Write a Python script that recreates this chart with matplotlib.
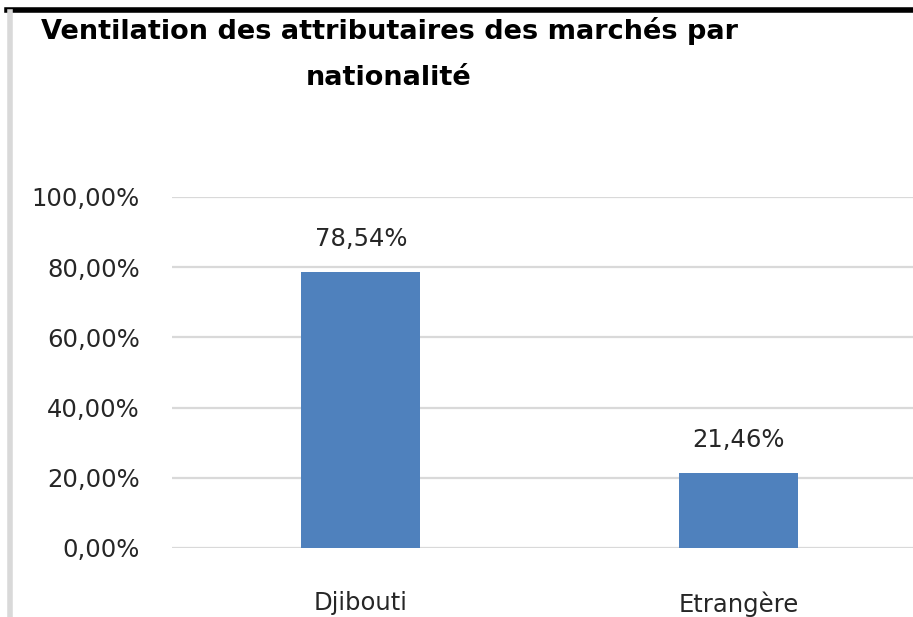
import matplotlib.pyplot as plt
from matplotlib.lines import Line2D

# données
categories = ["Djibouti", "Etrangère"]
valeurs = [0.7854, 0.2146]
ticks = [0.0, 0.2, 0.4, 0.6, 0.8, 1.0]

BLEU = '#4F81BD'
GRILLE = '#D9D9D9'
TEXTE = '#262626'


def fmt_pct(v):
    return f"{v * 100:.2f}%".replace('.', ',')


fig = plt.figure(figsize=(9.13, 6.17), dpi=100)
ax = fig.add_axes([172 / 913, 69 / 617, 755 / 913, 351 / 617])

x = range(len(categories))
ax.bar(x, valeurs, width=0.314, color=BLEU, zorder=3)

ax.set_xlim(-0.5, 1.5)
ax.set_ylim(0, 1.0)
ax.set_yticks(ticks)
ax.set_yticklabels([fmt_pct(t) for t in ticks])
ax.set_xticks(list(x))
ax.set_xticklabels(categories)

ax.grid(axis='y', color=GRILLE, linewidth=1.6, zorder=0)
ax.set_axisbelow(True)
for s in ax.spines.values():
    s.set_visible(False)
ax.tick_params(axis='y', length=0, pad=23, labelsize=17.5, labelcolor=TEXTE)
ax.tick_params(axis='x', length=0, pad=31, labelsize=17.5, labelcolor=TEXTE)

# étiquettes de valeurs
for xi, v in zip(x, valeurs):
    ax.annotate(fmt_pct(v), (xi, v), xytext=(0, 15), textcoords='offset points',
                ha='center', va='bottom', fontsize=17.5, color=TEXTE)

# titre
fig.text(389 / 913, 1 - 54 / 617,
         "Ventilation des attributaires des marchés par\nnationalité",
         ha='center', va='center', fontsize=19.5, fontweight='bold',
         linespacing=2.0, color='black')

# cadre : trait noir en haut, trait gris à gauche
fig.add_artist(Line2D([7 / 913, 1.0], [1 - 10 / 617, 1 - 10 / 617],
                      transform=fig.transFigure, color='black', linewidth=4))
fig.add_artist(Line2D([10 / 913, 10 / 913], [0, 1 - 12 / 617],
                      transform=fig.transFigure, color=GRILLE, linewidth=4))

fig.savefig("out.png", dpi=100)
